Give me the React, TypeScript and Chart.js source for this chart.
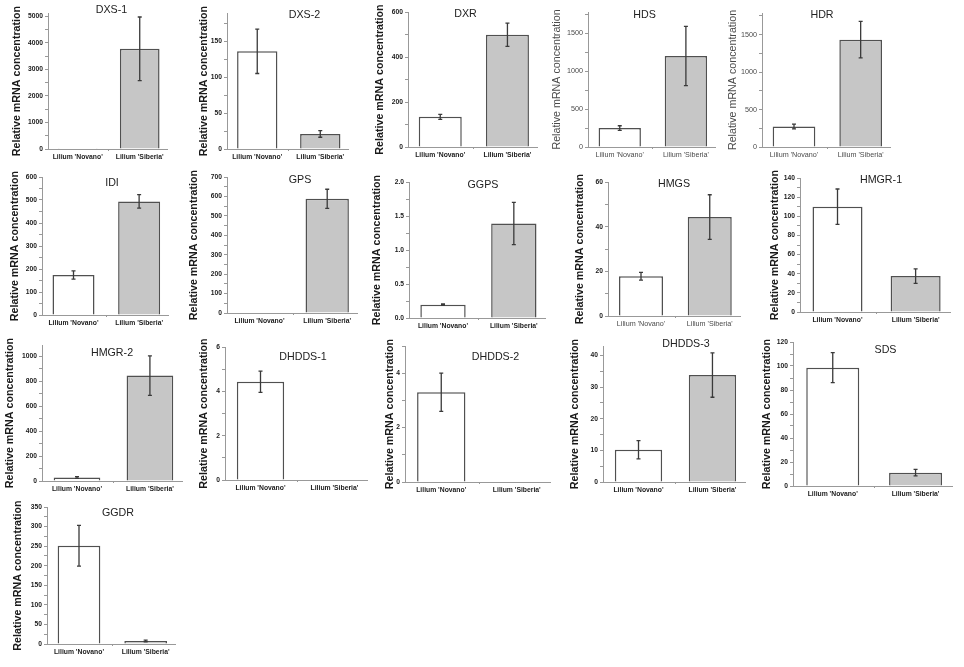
import React, { useEffect, useRef } from "react";
import { Chart, registerables } from "chart.js";

Chart.register(...registerables);

// data
const genes = [
  "DXS-1", "DXS-2", "DXR", "HDS", "HDR",
  "IDI", "GPS", "GGPS", "HMGS", "HMGR-1",
  "HMGR-2", "DHDDS-1", "DHDDS-2", "DHDDS-3", "SDS",
  "GGDR",
];
const categories = ["Lilium 'Novano'", "Lilium 'Siberia'"];
const novanoMean = [5, 136.5, 134, 250, 274, 174, 2, 0.196, 17.8, 110, 28, 4.43, 3.3, 10.2, 98.6, 251];
const novanoErr = [0, 31, 11, 30, 31, 18, 0, 0.01, 1.7, 18.5, 7, 0.48, 0.7, 2.9, 12.5, 52];
const siberiaMean = [3780, 21, 499, 1200, 1434, 494, 588, 1.39, 44.3, 37.5, 845, 0, 0, 33.8, 11.1, 7.7];
const siberiaErr = [1200, 4.6, 52, 390, 243, 29, 49, 0.31, 10, 7.5, 158, 0, 0, 7, 2.7, 2];
const yMax = [5130, 190, 600, 1780, 1790, 600, 700, 2, 60, 140, 1090, 6, 5, 43, 120, 350];
const yStep = [1000, 50, 200, 500, 500, 100, 100, 0.5, 20, 20, 200, 2, 2, 10, 20, 50];
const yTitle = "Relative mRNA concentration";

// panel placement: plot left, plot top, plot bottom, plot right, y-title gap, title dx, title dy, look
const boxes: [number, number, number, number, number, number, number, string][] = [
  [48, 13, 149, 167, 31, 4, -3, "b"],
  [227, 13, 149, 348, 23, 17, 2, "b"],
  [408, 12, 147, 537, 28, -7, 2, "b"],
  [588, 12, 147, 715, 31, -7, 3, "n"],
  [762, 13, 147, 890, 29, -4, 2, "n"],
  [42, 177, 315, 168, 27, 7, 6, "b"],
  [227, 177, 313, 357, 33, 8, 3, "b"],
  [409, 182, 318, 545, 32, 6, 3, "b"],
  [608, 182, 316, 740, 28, 0, 2, "m"],
  [800, 178, 312, 950, 25, 6, 2, "b"],
  [42, 345, 481, 182, 32, 0, 8, "b"],
  [225, 347, 480, 367, 21, 7, 10, "b"],
  [405, 346, 482, 550, 15, 18, 11, "b"],
  [603, 346, 482, 745, 28, 12, -2, "b"],
  [793, 342, 486, 952, 26, 13, 8, "b"],
  [47, 507, 644, 175, 29, 7, 6, "b"],
];

const FAMILY = '"Liberation Sans", Arial, sans-serif';
const DARK = "#1a1a1a";
const SOFT = "#4a4a4a";
const AXIS = "#999999";

function Panel({ i }: { i: number }) {
  const ref = useRef<HTMLCanvasElement>(null);
  const [left, top, bottom, right, gap, tdx, tdy, look] = boxes[i];
  const axisW = gap + 7;
  const padTop = 8;
  const padRight = 4;
  const xH = 20;
  const w = axisW + (right - left) + padRight;
  const h = padTop + (bottom - top) + xH;
  const yBold = look !== "n";
  const xBold = look === "b";

  useEffect(() => {
    if (!ref.current) return;
    const means = [novanoMean[i], siberiaMean[i]];
    const errs = [novanoErr[i], siberiaErr[i]];
    const step = yStep[i];
    const half = step / 2;
    const decimals = step < 1 ? 1 : 0;
    const isMajor = (v: number) => Math.abs(v / step - Math.round(v / step)) < 1e-6;

    const decorations = {
      id: "decorations",
      afterDatasetsDraw(chart: Chart) {
        const ctx = chart.ctx;
        const ys = chart.scales.y;
        const meta = chart.getDatasetMeta(0);
        ctx.save();
        ctx.strokeStyle = "#3a3a3a";
        ctx.lineWidth = 1.3;
        meta.data.forEach((el: any, j: number) => {
          if (!errs[j]) return;
          const yTop = ys.getPixelForValue(means[j] + errs[j]);
          const yBot = ys.getPixelForValue(Math.max(0, means[j] - errs[j]));
          ctx.beginPath();
          ctx.moveTo(el.x, yTop);
          ctx.lineTo(el.x, yBot);
          ctx.moveTo(el.x - 2, yTop);
          ctx.lineTo(el.x + 2, yTop);
          ctx.moveTo(el.x - 2, yBot);
          ctx.lineTo(el.x + 2, yBot);
          ctx.stroke();
        });
        ctx.restore();
      },
      afterDraw(chart: Chart) {
        const ctx = chart.ctx;
        const a = chart.chartArea;
        ctx.save();
        ctx.fillStyle = "#222";
        ctx.font = `10.7px ${FAMILY}`;
        ctx.textAlign = "center";
        ctx.textBaseline = "middle";
        ctx.fillText(genes[i], (a.left + a.right) / 2 + tdx, a.top + tdy);
        ctx.translate(a.left - gap, (a.top + a.bottom) / 2);
        ctx.rotate(-Math.PI / 2);
        ctx.fillStyle = yBold ? DARK : SOFT;
        ctx.font = `${yBold ? "bold " : ""}10.7px ${FAMILY}`;
        ctx.fillText(yTitle, 0, 0);
        ctx.restore();
      },
    };

    const chart = new Chart(ref.current, {
      type: "bar",
      data: {
        datasets: [
          {
            data: [
              { x: 0, y: means[0] },
              { x: 1, y: means[1] },
            ],
            backgroundColor: ["#ffffff", "#c6c6c6"],
            borderColor: "#505050",
            borderWidth: 1.5,
            categoryPercentage: 1,
            barPercentage: 0.64,
          },
        ],
      },
      options: {
        animation: false,
        responsive: false,
        layout: { padding: { top: padTop, right: padRight, left: 0, bottom: 0 } },
        plugins: {
          legend: { display: false },
          tooltip: { enabled: false },
        },
        scales: {
          x: {
            type: "linear",
            offset: false,
            min: -0.48,
            max: 1.44,
            afterBuildTicks: (s: any) => {
              s.ticks = [{ value: 0 }, { value: 1 }];
            },
            afterFit: (s: any) => {
              s.height = xH;
            },
            grid: { drawOnChartArea: false, drawTicks: true, tickLength: 2, color: AXIS },
            border: { display: true, color: AXIS, width: 1 },
            ticks: {
              autoSkip: false,
              maxRotation: 0,
              padding: 2,
              color: xBold ? DARK : SOFT,
              font: { family: FAMILY, size: xBold ? 6.8 : 7.2, weight: xBold ? "bold" : "normal" },
              callback: (v: any) => categories[Math.round(Number(v))] ?? "",
            },
          },
          y: {
            min: 0,
            max: yMax[i],
            afterBuildTicks: (s: any) => {
              const ticks = [];
              for (let k = 0; k * half <= yMax[i] + 1e-9; k++) {
                ticks.push({ value: Math.round(k * half * 1e6) / 1e6 });
              }
              s.ticks = ticks;
            },
            afterFit: (s: any) => {
              s.width = axisW;
            },
            grid: { drawOnChartArea: false, tickLength: 3, color: AXIS },
            border: { display: true, color: AXIS, width: 1 },
            ticks: {
              autoSkip: false,
              padding: 2,
              color: yBold ? DARK : SOFT,
              font: { family: FAMILY, size: yBold ? 6.7 : 7.2, weight: yBold ? "bold" : "normal" },
              callback: (v: any) => (isMajor(Number(v)) ? Number(v).toFixed(decimals) : ""),
            },
          },
        },
      },
      plugins: [decorations],
    } as any);
    return () => chart.destroy();
  }, [i]);

  return (
    <canvas
      ref={ref}
      width={w}
      height={h}
      style={{ position: "absolute", left: left - axisW, top: top - padTop, width: w, height: h }}
    />
  );
}

export default function App() {
  return (
    <div style={{ position: "absolute", left: 0, top: 0, width: 964, height: 667, background: "#fff" }}>
      {genes.map((g, i) => (
        <Panel key={g} i={i} />
      ))}
    </div>
  );
}
